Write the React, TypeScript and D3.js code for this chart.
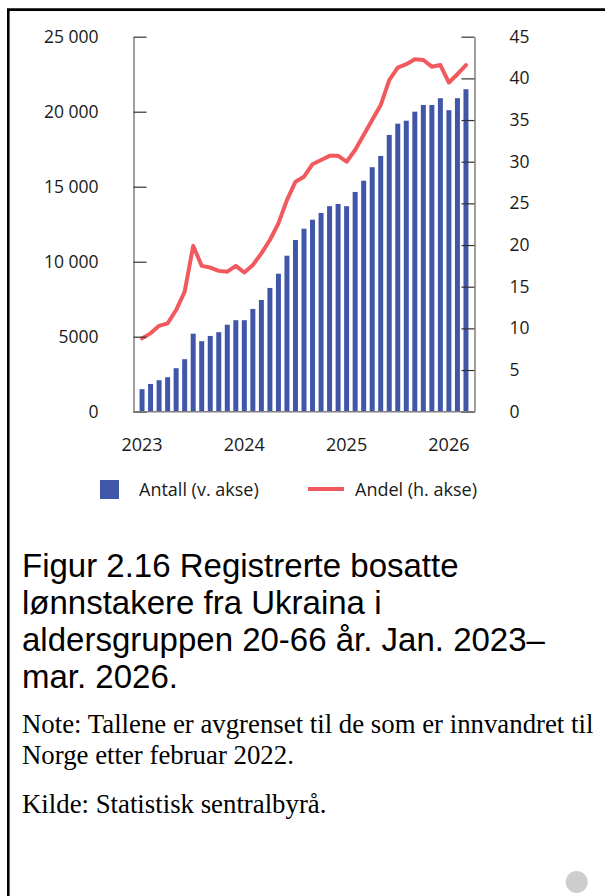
import React, { useEffect, useRef } from "react";
import * as d3 from "d3";

// Jan. 2023 – mar. 2026, one bar per month
const months = [
  "2023-01", "2023-02", "2023-03", "2023-04", "2023-05", "2023-06",
  "2023-07", "2023-08", "2023-09", "2023-10", "2023-11", "2023-12",
  "2024-01", "2024-02", "2024-03", "2024-04", "2024-05", "2024-06",
  "2024-07", "2024-08", "2024-09", "2024-10", "2024-11", "2024-12",
  "2025-01", "2025-02", "2025-03", "2025-04", "2025-05", "2025-06",
  "2025-07", "2025-08", "2025-09", "2025-10", "2025-11", "2025-12",
  "2026-01", "2026-02", "2026-03",
];

// Antall (v. akse)
const antall = [
  1500, 1850, 2100, 2300, 2900, 3500, 5200, 4700, 5050, 5300, 5800, 6100,
  6100, 6850, 7450, 8250, 9200, 10400, 11450, 12200, 12800, 13250, 13700, 13850,
  13700, 14650, 15400, 16300, 17050, 18450, 19200, 19400, 20000, 20450, 20450, 20900,
  20100, 20900, 21500,
];

// Andel (h. akse), prosent
const andel = [
  8.8, 9.4, 10.3, 10.6, 12.2, 14.4, 19.9, 17.5, 17.3, 16.9, 16.8, 17.5,
  16.7, 17.6, 19.0, 20.6, 22.6, 25.4, 27.6, 28.2, 29.7, 30.2, 30.7, 30.7,
  30.0, 31.4, 33.2, 35.0, 36.8, 39.8, 41.3, 41.7, 42.3, 42.2, 41.4, 41.6,
  39.5, 40.5, 41.6,
];

const yearTicks = ["2023", "2024", "2025", "2026"];
const leftTicks = [0, 5000, 10000, 15000, 20000, 25000];
const leftTickLabels = ["0", "5000", "10 000", "15 000", "20 000", "25 000"];
const rightTicks = [0, 5, 10, 15, 20, 25, 30, 35, 40, 45];

const legendLabels = ["Antall (v. akse)", "Andel (h. akse)"];

const titleLines = [
  "Figur 2.16 Registrerte bosatte",
  "lønnstakere fra Ukraina i",
  "aldersgruppen 20-66 år. Jan. 2023–",
  "mar. 2026.",
];
const noteLines = [
  "Note: Tallene er avgrenset til de som er innvandret til",
  "Norge etter februar 2022.",
];
const sourceLine = "Kilde: Statistisk sentralbyrå.";

const BAR = "#4056a8";
const LINE = "#f05a5f";
const AXIS = "#808080";
const TICK = "#333333";
const chartFont = "'Open Sans', sans-serif";

export default function App() {
  const svgRef = useRef<SVGSVGElement | null>(null);

  useEffect(() => {
    const svg = d3.select(svgRef.current);
    svg.selectAll("*").remove();

    const W = 605;
    const H = 896;
    const plot = { left: 133.5, right: 474.5, top: 36.7, bottom: 411.7 };

    // frame (left + top border)
    svg
      .append("path")
      .attr("d", `M8.3,${H} V9.6 H${W}`)
      .attr("fill", "none")
      .attr("stroke", "#000")
      .attr("stroke-width", 2.6);

    const x = d3
      .scaleBand()
      .domain(months)
      .range([plot.left, plot.right])
      .paddingInner(0.415)
      .paddingOuter(0.71);

    const yL = d3.scaleLinear().domain([0, 25000]).range([plot.bottom, plot.top]);
    const yR = d3.scaleLinear().domain([0, 45]).range([plot.bottom, plot.top]);

    const g = svg.append("g");

    // bars
    g.append("g")
      .selectAll("rect")
      .data(antall)
      .join("rect")
      .attr("x", (_, i) => x(months[i])!)
      .attr("y", (d) => yL(d))
      .attr("width", x.bandwidth())
      .attr("height", (d) => plot.bottom - yL(d))
      .attr("fill", BAR);

    // line
    const line = d3
      .line<number>()
      .x((_, i) => x(months[i])! + x.bandwidth() / 2)
      .y((d) => yR(d));

    g.append("path")
      .datum(andel)
      .attr("d", line)
      .attr("fill", "none")
      .attr("stroke", LINE)
      .attr("stroke-width", 4)
      .attr("stroke-linejoin", "round")
      .attr("stroke-linecap", "round");

    // left axis
    const leftAxis = g
      .append("g")
      .attr("transform", `translate(${plot.left},0)`)
      .call(
        d3
          .axisLeft(yL)
          .tickValues(leftTicks)
          .tickFormat((_, i) => leftTickLabels[i])
          .tickSizeInner(-13)
          .tickSizeOuter(0)
          .tickPadding(35)
      );

    // right axis
    const rightAxis = g
      .append("g")
      .attr("transform", `translate(${plot.right},0)`)
      .call(
        d3
          .axisRight(yR)
          .tickValues(rightTicks)
          .tickFormat((d) => String(d))
          .tickSizeInner(-13)
          .tickSizeOuter(0)
          .tickPadding(35)
      );

    [leftAxis, rightAxis].forEach((ax) => {
      ax.select(".domain").attr("stroke", AXIS).attr("stroke-width", 1.5);
      ax.selectAll(".tick line").attr("stroke", TICK).attr("stroke-width", 1.2);
      ax.selectAll(".tick text")
        .attr("fill", "#1a1a1a")
        .style("font-family", chartFont)
        .style("font-size", "17.5px");
    });

    // bottom axis line
    g.append("line")
      .attr("x1", plot.left)
      .attr("x2", plot.right)
      .attr("y1", plot.bottom)
      .attr("y2", plot.bottom)
      .attr("stroke", AXIS)
      .attr("stroke-width", 1.5);

    // year labels, centred on January bars
    g.append("g")
      .selectAll("text")
      .data(yearTicks)
      .join("text")
      .attr("x", (d) => x(`${d}-01`)! + x.bandwidth() / 2)
      .attr("y", 451)
      .attr("text-anchor", "middle")
      .attr("fill", "#1a1a1a")
      .style("font-family", chartFont)
      .style("font-size", "18px")
      .text((d) => d);

    // legend
    const legend = svg.append("g").style("font-family", chartFont).style("font-size", "18px");
    legend
      .append("rect")
      .attr("x", 100)
      .attr("y", 480)
      .attr("width", 19)
      .attr("height", 19)
      .attr("fill", BAR);
    legend
      .append("text")
      .attr("x", 139)
      .attr("y", 496)
      .attr("fill", "#1a1a1a")
      .text(legendLabels[0]);
    legend
      .append("line")
      .attr("x1", 308)
      .attr("x2", 344)
      .attr("y1", 489)
      .attr("y2", 489)
      .attr("stroke", LINE)
      .attr("stroke-width", 4);
    legend
      .append("text")
      .attr("x", 355)
      .attr("y", 496)
      .attr("fill", "#1a1a1a")
      .text(legendLabels[1]);

    // title
    svg
      .append("g")
      .selectAll("text")
      .data(titleLines)
      .join("text")
      .attr("x", 22)
      .attr("y", (_, i) => 577 + i * 37)
      .attr("fill", "#000")
      .style("font-family", "'Liberation Sans', Arial, sans-serif")
      .style("font-size", "33px")
      .text((d) => d);

    // note + source
    const serif = "'Liberation Serif', 'Times New Roman', serif";
    svg
      .append("g")
      .selectAll("text")
      .data(noteLines)
      .join("text")
      .attr("x", 22)
      .attr("y", (_, i) => 733 + i * 30.5)
      .attr("fill", "#000")
      .style("font-family", serif)
      .style("font-size", "26.8px")
      .text((d) => d);
    svg
      .append("text")
      .attr("x", 22)
      .attr("y", 813)
      .attr("fill", "#000")
      .style("font-family", serif)
      .style("font-size", "26.8px")
      .text(sourceLine);

    // small grey dot bottom right
    svg
      .append("circle")
      .attr("cx", 576.7)
      .attr("cy", 882)
      .attr("r", 11)
      .attr("fill", "#cdcdcd");
  }, []);

  return (
    <svg
      ref={svgRef}
      width={605}
      height={896}
      style={{ position: "absolute", left: 0, top: 0, background: "#fff" }}
    />
  );
}
